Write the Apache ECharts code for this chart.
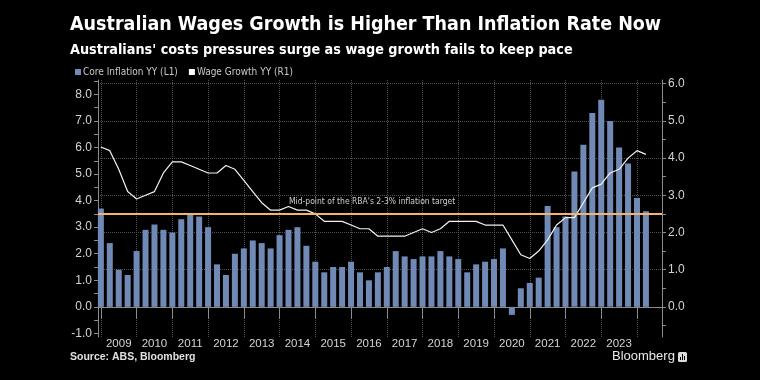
<!DOCTYPE html>
<html><head><meta charset="utf-8">
<script src="https://cdn.jsdelivr.net/npm/echarts@6/dist/echarts.min.js"></script>
<style>html,body{margin:0;padding:0;background:#000;} #c{width:760px;height:380px;}</style>
</head><body><div id="c"></div>
<script>
// ---- data ----
const quarters = ['2008Q4',
 '2009Q1','2009Q2','2009Q3','2009Q4','2010Q1','2010Q2','2010Q3','2010Q4',
 '2011Q1','2011Q2','2011Q3','2011Q4','2012Q1','2012Q2','2012Q3','2012Q4',
 '2013Q1','2013Q2','2013Q3','2013Q4','2014Q1','2014Q2','2014Q3','2014Q4',
 '2015Q1','2015Q2','2015Q3','2015Q4','2016Q1','2016Q2','2016Q3','2016Q4',
 '2017Q1','2017Q2','2017Q3','2017Q4','2018Q1','2018Q2','2018Q3','2018Q4',
 '2019Q1','2019Q2','2019Q3','2019Q4','2020Q1','2020Q2','2020Q3','2020Q4',
 '2021Q1','2021Q2','2021Q3','2021Q4','2022Q1','2022Q2','2022Q3','2022Q4',
 '2023Q1','2023Q2','2023Q3','2023Q4','2024Q1'];
const coreInflation = [3.7,2.4,1.4,1.2,2.1,2.9,3.1,2.9,2.8,3.3,
 3.5,3.4,3.0,1.6,1.2,2.0,2.2,2.5,2.4,2.2,
 2.7,2.9,3.0,2.3,1.7,1.3,1.5,1.5,1.7,1.3,
 1.0,1.3,1.5,2.1,1.9,1.8,1.9,1.9,2.1,1.9,
 1.8,1.3,1.6,1.7,1.8,2.2,-0.3,0.7,0.9,1.1,
 3.8,3.0,3.4,5.1,6.1,7.3,7.8,7.0,6.0,5.4,4.1,3.6];
const wageGrowth = [4.3,4.2,3.7,3.1,2.9,3.0,3.1,3.6,3.9,3.9,
 3.8,3.7,3.6,3.6,3.8,3.7,3.4,3.1,2.8,2.6,
 2.6,2.7,2.6,2.6,2.5,2.3,2.3,2.3,2.2,2.1,
 2.1,1.9,1.9,1.9,1.9,2.0,2.1,2.0,2.1,2.3,
 2.3,2.3,2.3,2.2,2.2,2.2,1.8,1.4,1.3,1.5,
 1.8,2.2,2.4,2.4,2.8,3.2,3.3,3.6,3.7,4.0,4.2,4.1];
const yearLabels = ['2009','2010','2011','2012','2013','2014','2015','2016',
 '2017','2018','2019','2020','2021','2022','2023'];
const leftTickLabels = [-1,0,1,2,3,4,5,6,7,8];
const rightTickLabels = [0,1,2,3,4,5,6];
const rbaMidpoint = 2.5;

const seriesNames = ['Core Inflation YY (L1)', 'Wage Growth YY (R1)'];

// ---- helpers ----
function qx(q){ return Number(q.slice(0,4)) + Number(q.slice(5))/4; }
const yearBoundaries = yearLabels.map(Number).concat(Number(yearLabels[yearLabels.length-1]) + 1);
const yearCenters = yearLabels.map(y => Number(y) + 0.5);
const leftTicks = [];
leftTickLabels.forEach(v => { leftTicks.push(v); leftTicks.push(v + 0.5); });
const rightHalfTicks = rightTickLabels.map(v => v - 0.5);

const NARROW = '"Liberation Sans Narrow", "DejaVu Sans Condensed", "Liberation Sans", sans-serif';
const SANS = '"Liberation Sans", Arial, sans-serif';
const AX = '#8c8c8c';
const LBL = '#d4d4d4';
const GRIDC = '#505050';

const chart = echarts.init(document.getElementById('c'), null, {renderer:'canvas'});
chart.setOption({
  backgroundColor: '#000',
  animation: false,
  title: [
    {text: 'Australian Wages Growth is Higher Than Inflation Rate Now', left: 65, top: 10,
     textStyle: {color:'#fff', fontSize: 19.5, fontWeight: 'bold', fontFamily: NARROW}},
    {text: "Australians' costs pressures surge as wage growth fails to keep pace", left: 65, top: 38,
     textStyle: {color:'#fff', fontSize: 14.3, fontWeight: 'bold', fontFamily: NARROW}}
  ],
  legend: {
    left: 70, top: 62, itemWidth: 6, itemHeight: 6, itemGap: 11, icon: 'rect',
    textStyle: {color: '#c8c8c8', fontSize: 10, fontFamily: NARROW, padding: [0,0,0,-3]},
    data: seriesNames
  },
  grid: {left: 98, right: 98, top: 80, bottom: 43},
  xAxis: {
    type: 'value', min: 2008.92, max: 2024.70,
    axisLine: {show: true, lineStyle: {color: AX}},
    axisTick: {show: true, customValues: yearBoundaries, length: 12, lineStyle: {color: AX}},
    axisLabel: {customValues: yearCenters, formatter: v => yearLabels[Math.floor(v) - Number(yearLabels[0])],
      color: LBL, fontSize: 11.5, fontFamily: SANS, margin: 1},
    splitLine: {show: true, lineStyle: {color: GRIDC, type: 'dotted'}}
  },
  yAxis: [
    {type: 'value', position: 'left', min: -1.134, max: 8.54,
     axisLine: {show: true, lineStyle: {color: AX}},
     axisTick: {show: true, customValues: leftTicks, length: 4, lineStyle: {color: AX}},
     axisLabel: {customValues: leftTickLabels, formatter: v => v.toFixed(1), color: LBL, fontSize: 12, fontFamily: SANS, margin: 6},
     splitLine: {show: false}},
    {type: 'value', position: 'right', min: -0.81, max: 6.1,
     axisLine: {show: true, lineStyle: {color: AX}},
     axisTick: {show: true, customValues: rightTickLabels, length: 4, lineStyle: {color: AX}},
     axisLabel: {customValues: rightTickLabels, formatter: v => v.toFixed(1), color: LBL, fontSize: 12, fontFamily: SANS, margin: 6},
     splitLine: {show: true, lineStyle: {color: GRIDC, type: 'dotted'}}},
    {type: 'value', position: 'right', min: -0.81, max: 6.1,
     axisLine: {show: false},
     axisTick: {show: true, customValues: rightHalfTicks, length: 4, lineStyle: {color: AX}},
     axisLabel: {show: false}, splitLine: {show: false}}
  ],
  series: [
    {name: seriesNames[0], type: 'bar', yAxisIndex: 0, barWidth: 6,
     itemStyle: {color: '#7189b5'},
     data: quarters.map((q, i) => [qx(q), coreInflation[i]]), z: 2},
    {name: seriesNames[1], type: 'line', yAxisIndex: 1, symbol: 'none',
     itemStyle: {color: '#fff'}, lineStyle: {color: '#f2f2f2', width: 1.2},
     data: quarters.map((q, i) => [qx(q), wageGrowth[i]]), z: 4,
     markLine: {silent: true, symbol: 'none', animation: false,
       lineStyle: {color: '#f4b46c', width: 2, type: 'solid'},
       label: {show: true, position: 'insideStartTop', distance: [191, 8],
         formatter: "Mid-point of the RBA's 2-3% inflation target",
         color: '#d0d0d0', fontSize: 8.5, fontFamily: NARROW},
       data: [{yAxis: rbaMidpoint}]}}
  ],
  graphic: [
    {type: 'text', left: 70, top: 352, style: {text: 'Source: ABS, Bloomberg', fill: '#e0e0e0', font: 'bold 10.5px "Liberation Sans", sans-serif'}},
    {type: 'text', left: 612, top: 350, style: {text: 'Bloomberg', fill: '#e8e8e8', font: '13px "Liberation Sans", sans-serif'}},
    {type: 'group', left: 678, top: 352, children: [
      {type: 'rect', shape: {x: 0, y: 0, width: 9, height: 10, r: 1.5}, style: {fill: '#dcdcdc'}},
      {type: 'rect', shape: {x: 2, y: 5, width: 1, height: 3}, style: {fill: '#000'}},
      {type: 'rect', shape: {x: 4, y: 2, width: 1, height: 6}, style: {fill: '#000'}},
      {type: 'rect', shape: {x: 6, y: 4, width: 1, height: 4}, style: {fill: '#000'}}
    ]}
  ]
});
</script></body></html>
